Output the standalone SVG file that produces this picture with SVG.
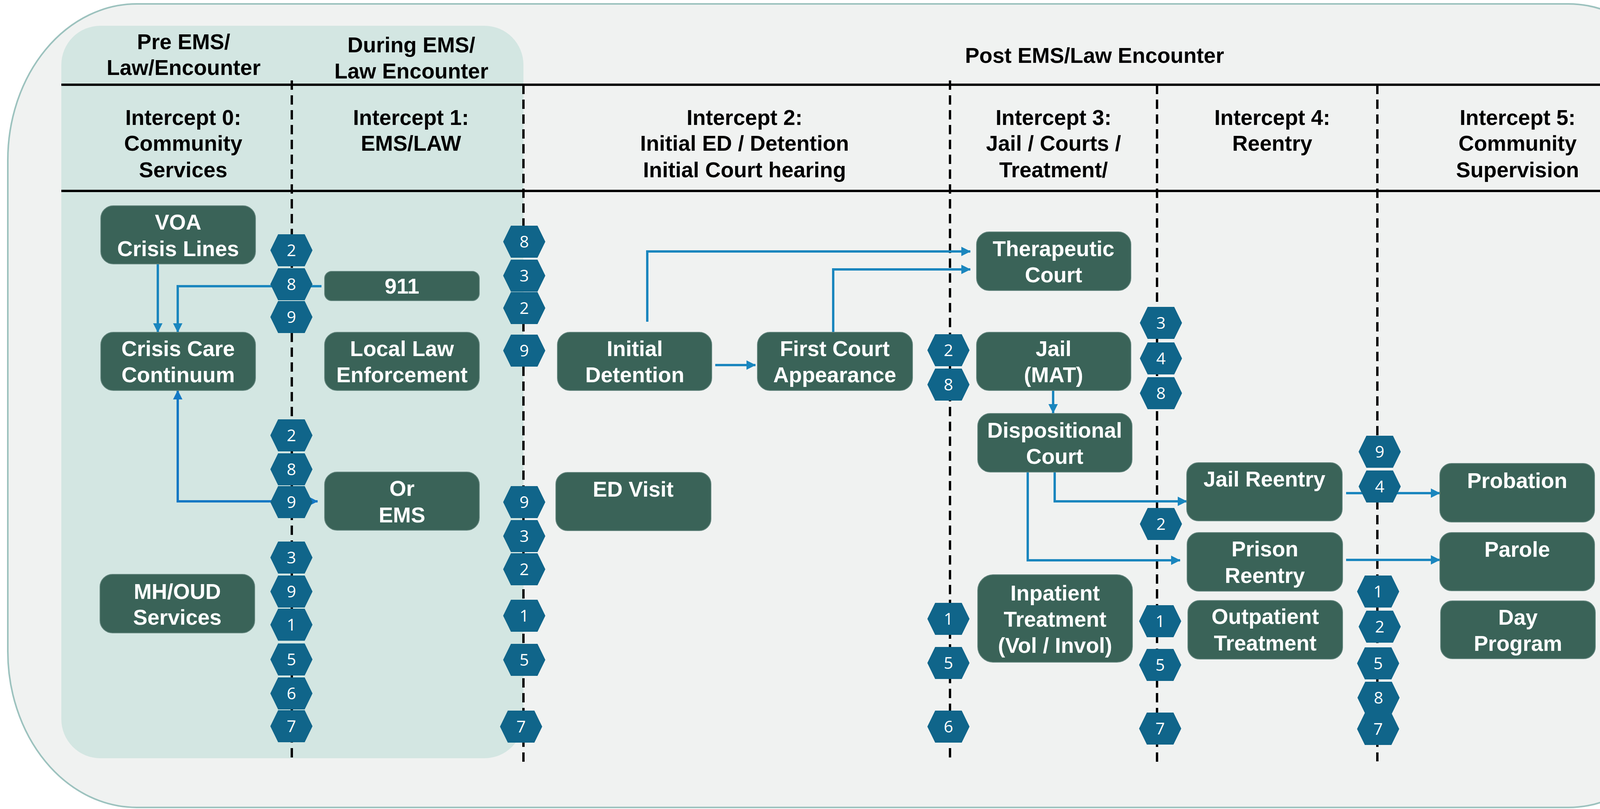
<svg xmlns="http://www.w3.org/2000/svg" width="4368" height="2072" viewBox="0 0 4368 2072">
<style>
.bg{fill:#F0F2F1;stroke:#9CC2BE;stroke-width:4}
.panel{fill:#D3E6E2}
.hline{stroke:#000;stroke-width:6}
.dash{stroke:#000;stroke-width:6;stroke-dasharray:24 14;fill:none}
.hdr{font-family:"Liberation Sans",Arial,sans-serif;font-weight:bold;font-size:55px;fill:#000;text-anchor:middle}
.node rect{fill:#3A6358;stroke:#5F827A;stroke-width:2}
.node text{font-family:"Liberation Sans",Arial,sans-serif;font-weight:bold;font-size:55px;fill:#fff;text-anchor:middle}
.hex use{fill:#10658A}
.hex text{font-family:"Open Sans","Noto Sans",sans-serif;font-size:42px;fill:#fff;text-anchor:middle}
.conn{fill:none;stroke:#1A86BE;stroke-width:6}
.conn2{fill:none;stroke:#1478C4;stroke-width:6}
</style>
<defs>
<polygon id="hexshape" points="-54,0 -34,-41 34,-41 54,0 34,41 -34,41"/>
<marker id="ah" viewBox="0 0 24 24" refX="23" refY="12" markerWidth="24" markerHeight="24" markerUnits="userSpaceOnUse" orient="auto-start-reverse"><path d="M0,0 L24,12 L0,24 z" fill="#1A86BE"/></marker>
<marker id="ah2" viewBox="0 0 24 24" refX="23" refY="12" markerWidth="24" markerHeight="24" markerUnits="userSpaceOnUse" orient="auto-start-reverse"><path d="M0,0 L24,12 L0,24 z" fill="#1478C4"/></marker>
</defs>
<rect width="4368" height="2072" fill="#FFFFFF"/>
<rect class="bg" x="20" y="10" width="4325" height="2058" rx="330" ry="400"/>
<rect class="panel" x="157" y="66" width="1183" height="1876" rx="100" ry="100"/>
<g id="grid">
<line class="hline" x1="157" y1="217" x2="4245" y2="217"/>
<line class="hline" x1="157" y1="489" x2="4245" y2="489"/>
<line class="dash" x1="747" y1="206" x2="747" y2="1942"/>
<line class="dash" x1="1340" y1="217" x2="1340" y2="1952"/>
<line class="dash" x1="2432" y1="206" x2="2432" y2="1943"/>
<line class="dash" x1="2962" y1="217" x2="2962" y2="1952"/>
<line class="dash" x1="3526" y1="217" x2="3526" y2="1950"/>
<line class="dash" x1="4244" y1="206" x2="4244" y2="1942"/>
</g>
<g id="headers">
<text class="hdr" x="470" y="126">Pre EMS/</text>
<text class="hdr" x="470" y="192">Law/Encounter</text>
<text class="hdr" x="1053" y="134">During EMS/</text>
<text class="hdr" x="1053" y="201">Law Encounter</text>
<text class="hdr" x="2802" y="161">Post EMS/Law Encounter</text>
<text class="hdr" x="469" y="320">Intercept 0:</text>
<text class="hdr" x="469" y="386">Community</text>
<text class="hdr" x="469" y="454">Services</text>
<text class="hdr" x="1052" y="320">Intercept 1:</text>
<text class="hdr" x="1052" y="386">EMS/LAW</text>
<text class="hdr" x="1906" y="320">Intercept 2:</text>
<text class="hdr" x="1906" y="386">Initial ED / Detention</text>
<text class="hdr" x="1906" y="454">Initial Court hearing</text>
<text class="hdr" x="2697" y="320">Intercept 3:</text>
<text class="hdr" x="2697" y="386">Jail / Courts /</text>
<text class="hdr" x="2697" y="454">Treatment/</text>
<text class="hdr" x="3257" y="320">Intercept 4:</text>
<text class="hdr" x="3257" y="386">Reentry</text>
<text class="hdr" x="3885" y="320">Intercept 5:</text>
<text class="hdr" x="3885" y="386">Community</text>
<text class="hdr" x="3885" y="454">Supervision</text>
</g>
<g id="connectors">
<path class="conn" d="M404,676 V851" marker-end="url(#ah)"/>
<path class="conn" d="M823,733 H455 V851" marker-end="url(#ah)"/>
<path class="conn2" d="M813,1284 H455 V1000" marker-start="url(#ah2)" marker-end="url(#ah2)"/>
<path class="conn" d="M1657,824 V644 H2484" marker-end="url(#ah)"/>
<path class="conn" d="M2133,851 V690 H2484" marker-end="url(#ah)"/>
<path class="conn" d="M1831,935 H1934" marker-end="url(#ah)"/>
<path class="conn" d="M2696,1000 V1058" marker-end="url(#ah)"/>
<path class="conn" d="M2700,1209 V1284 H3038" marker-end="url(#ah)"/>
<path class="conn" d="M2631,1209 V1435 H3021" marker-end="url(#ah)"/>
<path class="conn" d="M3446,1263 H3686" marker-end="url(#ah)"/>
<path class="conn" d="M3446,1434 H3686" marker-end="url(#ah)"/>
</g>
<g id="voa" class="node"><rect x="258" y="527" width="396" height="149" rx="32"/><text x="456" y="588">VOA</text><text x="456" y="656">Crisis Lines</text></g>
<g id="crisis-care" class="node"><rect x="258" y="851" width="396" height="149" rx="32"/><text x="456" y="912">Crisis Care</text><text x="456" y="979">Continuum</text></g>
<g id="n911" class="node"><rect x="831" y="695" width="396" height="75" rx="18"/><text x="1029" y="752">911</text></g>
<g id="local-law" class="node"><rect x="831" y="851" width="396" height="149" rx="32"/><text x="1029" y="912">Local Law</text><text x="1029" y="979">Enforcement</text></g>
<g id="ems" class="node"><rect x="831" y="1209" width="396" height="149" rx="32"/><text x="1029" y="1270">Or</text><text x="1029" y="1338">EMS</text></g>
<g id="mhoud" class="node"><rect x="256" y="1471" width="396" height="150" rx="32"/><text x="454" y="1534">MH/OUD</text><text x="454" y="1600">Services</text></g>
<g id="initial-detention" class="node"><rect x="1427" y="851" width="395" height="149" rx="32"/><text x="1625" y="912">Initial</text><text x="1625" y="979">Detention</text></g>
<g id="first-court" class="node"><rect x="1939" y="851" width="397" height="149" rx="32"/><text x="2137" y="912">First Court</text><text x="2137" y="979">Appearance</text></g>
<g id="ed-visit" class="node"><rect x="1423" y="1210" width="397" height="149" rx="30"/><text x="1621" y="1272">ED Visit</text></g>
<g id="therapeutic-court" class="node"><rect x="2500" y="594" width="395" height="150" rx="32"/><text x="2697" y="656">Therapeutic</text><text x="2697" y="723">Court</text></g>
<g id="jail-mat" class="node"><rect x="2500" y="851" width="395" height="149" rx="32"/><text x="2697" y="912">Jail</text><text x="2697" y="979">(MAT)</text></g>
<g id="dispositional-court" class="node"><rect x="2503" y="1059" width="395" height="150" rx="32"/><text x="2700" y="1121">Dispositional</text><text x="2700" y="1188">Court</text></g>
<g id="inpatient" class="node"><rect x="2503" y="1472" width="396" height="224" rx="40"/><text x="2701" y="1538">Inpatient</text><text x="2701" y="1605">Treatment</text><text x="2701" y="1672">(Vol / Invol)</text></g>
<g id="jail-reentry" class="node"><rect x="3038" y="1185" width="398" height="149" rx="30"/><text x="3237" y="1246">Jail Reentry</text></g>
<g id="prison-reentry" class="node"><rect x="3039" y="1364" width="398" height="150" rx="30"/><text x="3238" y="1425">Prison</text><text x="3238" y="1493">Reentry</text></g>
<g id="outpatient" class="node"><rect x="3041" y="1538" width="396" height="150" rx="30"/><text x="3239" y="1598">Outpatient</text><text x="3239" y="1666">Treatment</text></g>
<g id="probation" class="node"><rect x="3686" y="1187" width="396" height="150" rx="30"/><text x="3884" y="1250">Probation</text></g>
<g id="parole" class="node"><rect x="3686" y="1364" width="396" height="149" rx="30"/><text x="3884" y="1426">Parole</text></g>
<g id="day-program" class="node"><rect x="3688" y="1539" width="396" height="148" rx="30"/><text x="3886" y="1600">Day</text><text x="3886" y="1667">Program</text></g>
<g id="badges">
<g id="b0-1" class="hex" transform="translate(746,641)"><use href="#hexshape"/><text y="15">2</text></g>
<g id="b0-2" class="hex" transform="translate(746,728)"><use href="#hexshape"/><text y="15">8</text></g>
<g id="b0-3" class="hex" transform="translate(746,812)"><use href="#hexshape"/><text y="15">9</text></g>
<g id="b0-4" class="hex" transform="translate(746,1115)"><use href="#hexshape"/><text y="15">2</text></g>
<g id="b0-5" class="hex" transform="translate(746,1202)"><use href="#hexshape"/><text y="15">8</text></g>
<g id="b0-6" class="hex" transform="translate(746,1286)"><use href="#hexshape"/><text y="15">9</text></g>
<g id="b0-7" class="hex" transform="translate(746,1428)"><use href="#hexshape"/><text y="15">3</text></g>
<g id="b0-8" class="hex" transform="translate(746,1515)"><use href="#hexshape"/><text y="15">9</text></g>
<g id="b0-9" class="hex" transform="translate(746,1600)"><use href="#hexshape"/><text y="15">1</text></g>
<g id="b0-10" class="hex" transform="translate(746,1689)"><use href="#hexshape"/><text y="15">5</text></g>
<g id="b0-11" class="hex" transform="translate(746,1776)"><use href="#hexshape"/><text y="15">6</text></g>
<g id="b0-12" class="hex" transform="translate(746,1860)"><use href="#hexshape"/><text y="15">7</text></g>
<g id="b1-1" class="hex" transform="translate(1342,619)"><use href="#hexshape"/><text y="15">8</text></g>
<g id="b1-2" class="hex" transform="translate(1342,706)"><use href="#hexshape"/><text y="15">3</text></g>
<g id="b1-3" class="hex" transform="translate(1342,789)"><use href="#hexshape"/><text y="15">2</text></g>
<g id="b1-4" class="hex" transform="translate(1342,898)"><use href="#hexshape"/><text y="15">9</text></g>
<g id="b1-5" class="hex" transform="translate(1342,1286)"><use href="#hexshape"/><text y="15">9</text></g>
<g id="b1-6" class="hex" transform="translate(1342,1373)"><use href="#hexshape"/><text y="15">3</text></g>
<g id="b1-7" class="hex" transform="translate(1342,1458)"><use href="#hexshape"/><text y="15">2</text></g>
<g id="b1-8" class="hex" transform="translate(1342,1577)"><use href="#hexshape"/><text y="15">1</text></g>
<g id="b1-9" class="hex" transform="translate(1342,1690)"><use href="#hexshape"/><text y="15">5</text></g>
<g id="b1-10" class="hex" transform="translate(1334,1861)"><use href="#hexshape"/><text y="15">7</text></g>
<g id="b2-1" class="hex" transform="translate(2428,897)"><use href="#hexshape"/><text y="15">2</text></g>
<g id="b2-2" class="hex" transform="translate(2428,985)"><use href="#hexshape"/><text y="15">8</text></g>
<g id="b2-3" class="hex" transform="translate(2428,1585)"><use href="#hexshape"/><text y="15">1</text></g>
<g id="b2-4" class="hex" transform="translate(2428,1698)"><use href="#hexshape"/><text y="15">5</text></g>
<g id="b2-5" class="hex" transform="translate(2428,1861)"><use href="#hexshape"/><text y="15">6</text></g>
<g id="b3-1" class="hex" transform="translate(2972,827)"><use href="#hexshape"/><text y="15">3</text></g>
<g id="b3-2" class="hex" transform="translate(2972,918)"><use href="#hexshape"/><text y="15">4</text></g>
<g id="b3-3" class="hex" transform="translate(2972,1007)"><use href="#hexshape"/><text y="15">8</text></g>
<g id="b3-4" class="hex" transform="translate(2972,1342)"><use href="#hexshape"/><text y="15">2</text></g>
<g id="b3-5" class="hex" transform="translate(2970,1591)"><use href="#hexshape"/><text y="15">1</text></g>
<g id="b3-6" class="hex" transform="translate(2970,1703)"><use href="#hexshape"/><text y="15">5</text></g>
<g id="b3-7" class="hex" transform="translate(2970,1866)"><use href="#hexshape"/><text y="15">7</text></g>
<g id="b4-1" class="hex" transform="translate(3532,1157)"><use href="#hexshape"/><text y="15">9</text></g>
<g id="b4-2" class="hex" transform="translate(3532,1246)"><use href="#hexshape"/><text y="15">4</text></g>
<g id="b4-3" class="hex" transform="translate(3528,1515)"><use href="#hexshape"/><text y="15">1</text></g>
<g id="b4-4" class="hex" transform="translate(3532,1605)"><use href="#hexshape"/><text y="15">2</text></g>
<g id="b4-5" class="hex" transform="translate(3528,1699)"><use href="#hexshape"/><text y="15">5</text></g>
<g id="b4-6" class="hex" transform="translate(3529,1787)"><use href="#hexshape"/><text y="15">8</text></g>
<g id="b4-7" class="hex" transform="translate(3528,1867)"><use href="#hexshape"/><text y="15">7</text></g>
<g id="b5-1" class="hex" transform="translate(4246,1226)"><use href="#hexshape"/><text y="15">4</text></g>
<g id="b5-2" class="hex" transform="translate(4246,1340)"><use href="#hexshape"/><text y="15">4</text></g>
<g id="b5-3" class="hex" transform="translate(4245,1431)"><use href="#hexshape"/><text y="15">8</text></g>
<g id="b5-4" class="hex" transform="translate(4246,1518)"><use href="#hexshape"/><text y="15">1</text></g>
<g id="b5-5" class="hex" transform="translate(4246,1602)"><use href="#hexshape"/><text y="15">2</text></g>
<g id="b5-6" class="hex" transform="translate(4246,1692)"><use href="#hexshape"/><text y="15">5</text></g>
<g id="b5-7" class="hex" transform="translate(4246,1778)"><use href="#hexshape"/><text y="15">6</text></g>
<g id="b5-8" class="hex" transform="translate(4246,1862)"><use href="#hexshape"/><text y="15">7</text></g>
</g>
</svg>
